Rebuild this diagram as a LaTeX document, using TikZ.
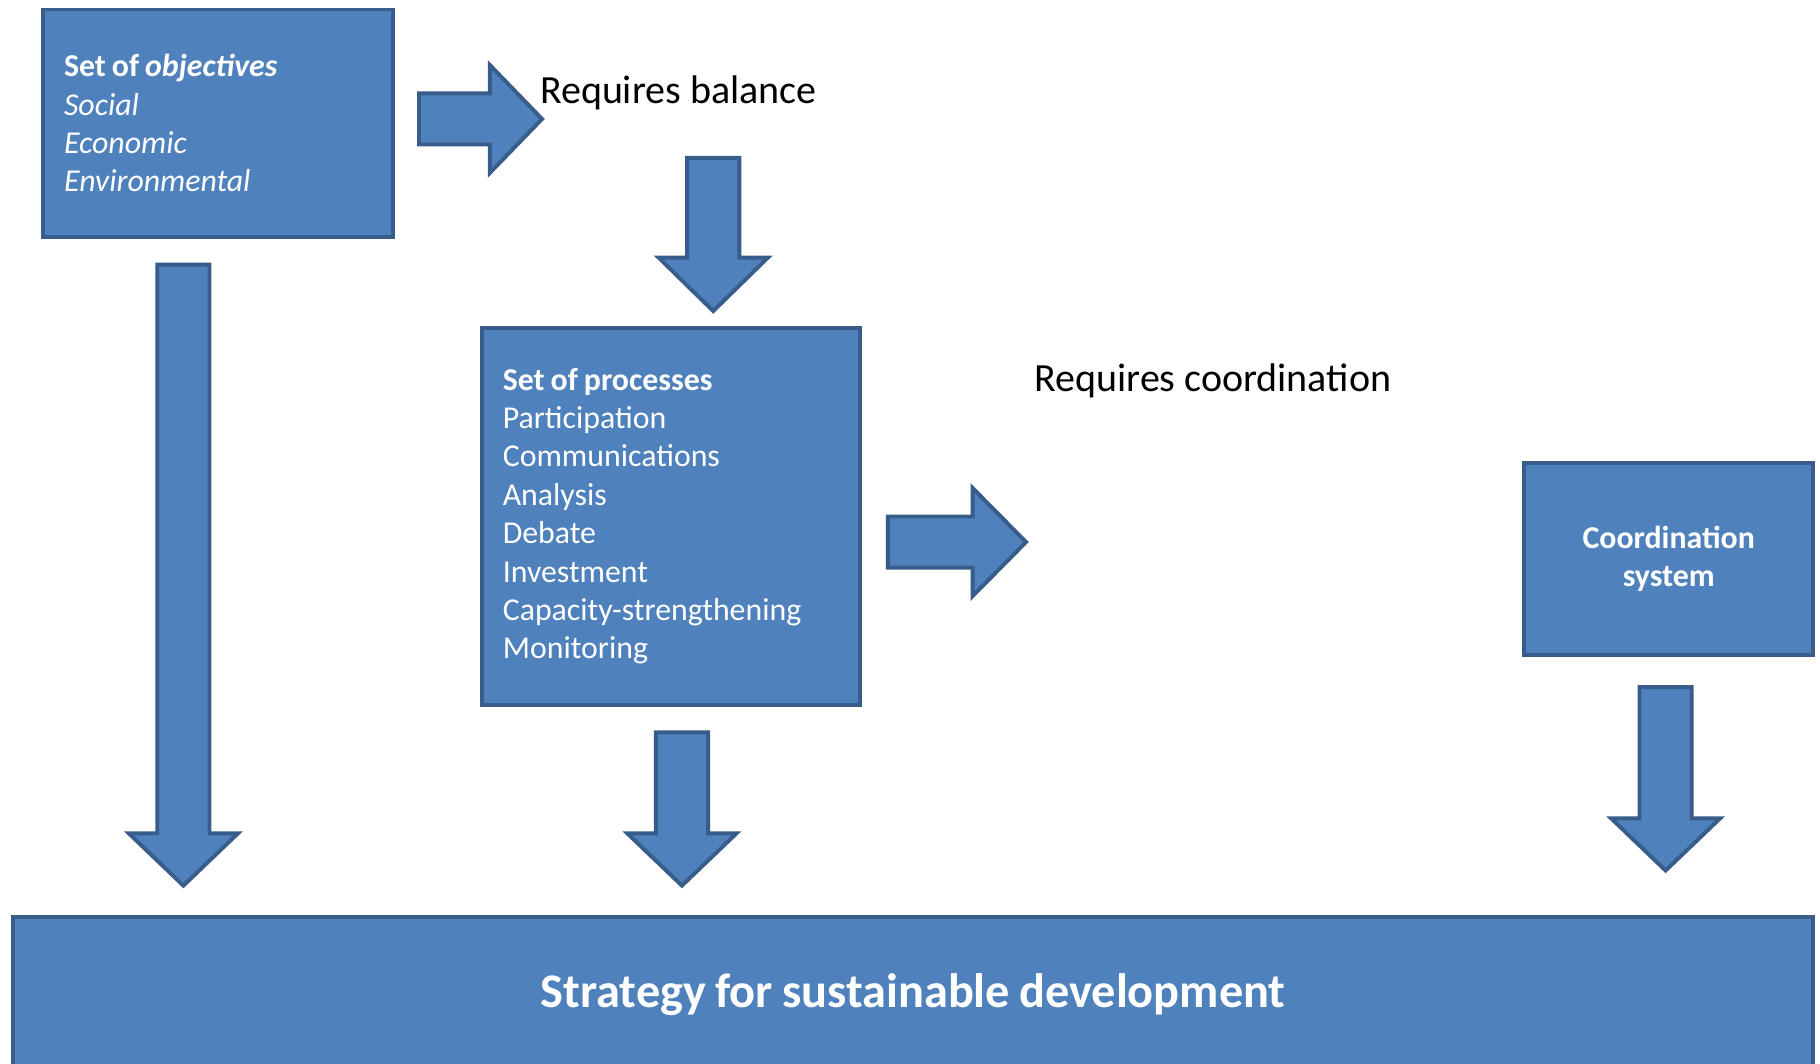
\documentclass[tikz,border=0pt]{standalone}
\usepackage{fontspec}
\setmainfont{Carlito}
\definecolor{fillblue}{HTML}{4F81BD}
\definecolor{edgeblue}{HTML}{385D8A}
\newcommand\pxu{0.025cm}
\newcommand\tbf{\bfseries\spaceskip=0.19em\relax}
\newcommand\tbi{\bfseries\itshape\spaceskip=0.19em\relax}
\newcommand\downblock[4]{%
  \draw[blockarrow] (#1-22.5,#2) -- (#1+22.5,#2) -- (#1+22.5,#3) -- (#1+47,#3) -- (#1,#4) -- (#1-47,#3) -- (#1-22.5,#3) -- cycle;}
\newcommand\rightblock[4]{%
  \draw[blockarrow] (#1,#2-22) -- (#3,#2-22) -- (#3,#2-46.5) -- (#4,#2) -- (#3,#2+46.5) -- (#3,#2+22) -- (#1,#2+22) -- cycle;}
\tikzset{
  box/.style={draw=edgeblue, fill=fillblue, line width=2.4pt, text=white, anchor=north west, inner ysep=0pt},
  blockarrow/.style={draw=edgeblue, fill=fillblue, line width=2.4pt, line join=miter},
  boxtext/.style={font=\fontsize{19.5}{23.5}\selectfont},
  plain/.style={font=\fontsize{24.5}{29}\selectfont, text=black, inner sep=0pt, anchor=west}
}
\begin{document}
\begin{tikzpicture}[x=0.025cm, y=-0.025cm]
\useasboundingbox (0,0) rectangle (1568,916);
\clip (0,0) rectangle (1568,916);
\fill[white] (0,0) rectangle (1568,916);

\node[box, boxtext, minimum width=301*\pxu, minimum height=196*\pxu, text width=265*\pxu, inner xsep=18*\pxu, align=left] (obj) at (35.5,6.5)
  {{\tbf Set of {\tbi objectives}}\\ \textit{Social}\\ \textit{Economic}\\ \textit{Environmental}};

\node[box, boxtext, minimum width=326*\pxu, minimum height=325*\pxu, text width=290*\pxu, inner xsep=18*\pxu, align=left] (proc) at (413.5,280.5)
  {{\tbf Set of processes}\\ Participation\\ Communications\\ Analysis\\ Debate\\ Investment\\ Capacity-strengthening\\ Monitoring};

\node[box, minimum width=249*\pxu, minimum height=165*\pxu, text width=213*\pxu, inner xsep=18*\pxu, align=center, font=\fontsize{19.5}{23.5}\selectfont\bfseries] (coord) at (1311.5,397.5)
  {Coordination\\ system};

\node[box, minimum width=1551*\pxu, minimum height=134*\pxu, text width=1500*\pxu, inner xsep=25.5*\pxu, align=center, font=\fontsize{29.6}{35}\selectfont\bfseries] (strat) at (9.5,788.5)
  {\tbf Strategy for sustainable development};

\node[plain] (bal) at (465,80) {Requires balance};
\node[plain] (coo) at (891,328) {Requires coordination};

\rightblock{361}{102.5}{422}{467}
\rightblock{765}{467}{838}{884}
\downblock{614.5}{136}{222}{268}
\downblock{158}{228}{718}{763}
\downblock{587.5}{631}{718}{763}
\downblock{1435}{592}{705}{750}
\end{tikzpicture}
\end{document}
